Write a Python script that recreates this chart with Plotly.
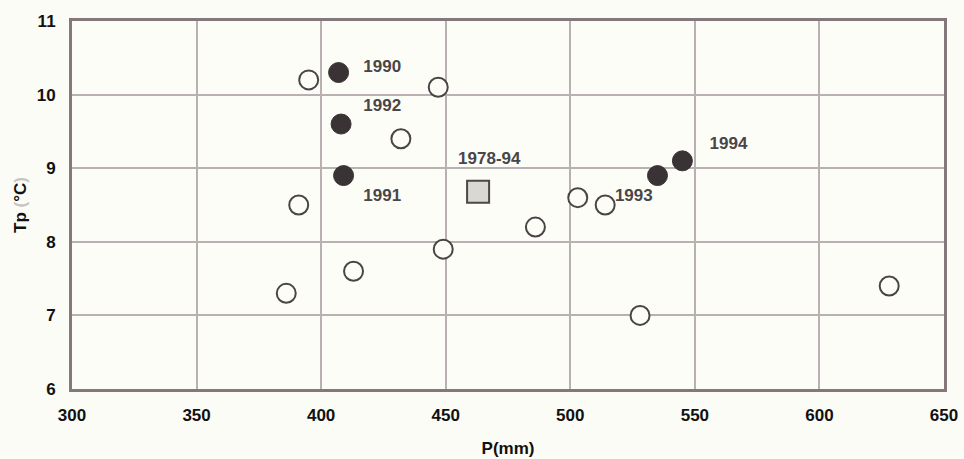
import plotly.graph_objects as go

# Annual precipitation P (mm) and temperature Tp (°C)
open_p = [395, 391, 386, 413, 447, 432, 449, 486, 503, 514, 528, 628]
open_t = [10.2, 8.5, 7.3, 7.6, 10.1, 9.4, 7.9, 8.2, 8.6, 8.5, 7.0, 7.4]

filled_p = [407, 408, 409, 535, 545]
filled_t = [10.3, 9.6, 8.9, 8.9, 9.1]

mean_p = [463]
mean_t = [8.68]

label_text = ["1990", "1992", "1991", "1978-94", "1993", "1994"]
label_p = [424.5, 424.5, 424.5, 467.5, 525.5, 563.5]
label_t = [10.36, 9.83, 8.61, 9.11, 8.61, 9.32]

x_ticks = [300, 350, 400, 450, 500, 550, 600, 650]
y_ticks = [6, 7, 8, 9, 10, 11]

FONT = "Arial, Liberation Sans, sans-serif"

fig = go.Figure()

fig.add_trace(go.Scatter(
    x=open_p, y=open_t, mode="markers",
    marker=dict(size=19, color="#fdfdf8", line=dict(color="#4a4446", width=2)),
    hoverinfo="x+y", showlegend=False,
))
fig.add_trace(go.Scatter(
    x=filled_p, y=filled_t, mode="markers",
    marker=dict(size=20, color="#3a3335", line=dict(color="#3a3335", width=1)),
    hoverinfo="x+y", showlegend=False,
))
fig.add_trace(go.Scatter(
    x=mean_p, y=mean_t, mode="markers",
    marker=dict(symbol="square", size=22, color="#d9d9d3",
                line=dict(color="#4e4649", width=2)),
    hoverinfo="x+y", showlegend=False,
))
fig.add_trace(go.Scatter(
    x=label_p, y=label_t, mode="text", text=label_text,
    textfont=dict(family=FONT, size=17, color="#4a4547", weight="bold"),
    hoverinfo="skip", showlegend=False,
))

axis_font = dict(family=FONT, size=17, color="#111111", weight="bold")

fig.update_xaxes(
    range=[300, 650], tickvals=x_ticks, ticktext=[str(v) for v in x_ticks],
    showgrid=True, gridcolor="#b9b0b4", gridwidth=1.5,
    showline=True, linecolor="#85787c", linewidth=3, mirror=True,
    zeroline=False, ticks="", tickfont=axis_font, ticklabelstandoff=9,
    automargin=False,
    title=dict(text="P(mm)", font=axis_font, standoff=18),
)
fig.update_yaxes(
    range=[6, 11], tickvals=y_ticks, ticktext=[str(v) for v in y_ticks],
    showgrid=True, gridcolor="#b9b0b4", gridwidth=1.5,
    showline=True, linecolor="#85787c", linewidth=3, mirror=True,
    zeroline=False, ticks="", tickfont=axis_font, ticklabelstandoff=10,
    automargin=False,
    title=dict(text="Tp <span style='color:#c8c4c4'>(</span>°C<span style='color:#c8c4c4'>)</span>",
               font=axis_font, standoff=6),
)

fig.update_layout(
    width=964, height=459,
    margin=dict(l=72, r=20, t=21, b=70),
    paper_bgcolor="#fbfcf5",
    plot_bgcolor="#fdfdf8",
)

fig.write_html("out.html")
